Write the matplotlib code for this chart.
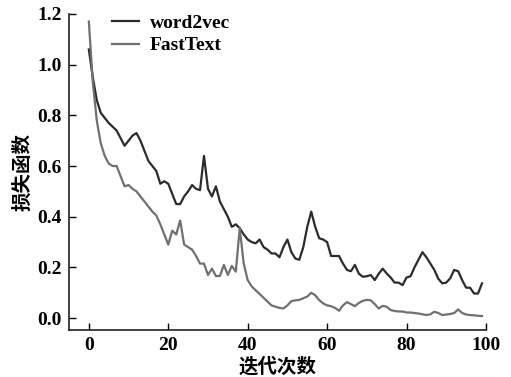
import matplotlib
matplotlib.use("Agg")
import matplotlib.pyplot as plt
import numpy as np

epochs = list(range(100))
word2vec = [1.06, 0.95, 0.86, 0.81, 0.79, 0.77, 0.755, 0.74, 0.71, 0.68,
            0.70, 0.72, 0.73, 0.70, 0.66, 0.62, 0.60, 0.58, 0.53, 0.54,
            0.53, 0.49, 0.45, 0.45, 0.48, 0.50, 0.525, 0.51, 0.505, 0.64,
            0.51, 0.48, 0.52, 0.46, 0.43, 0.40, 0.36, 0.37, 0.355, 0.33,
            0.31, 0.30, 0.295, 0.31, 0.28, 0.27, 0.255, 0.255, 0.24, 0.28,
            0.31, 0.26, 0.235, 0.23, 0.28, 0.36, 0.42, 0.36, 0.315, 0.31,
            0.30, 0.245, 0.245, 0.245, 0.215, 0.19, 0.185, 0.21, 0.175, 0.163,
            0.165, 0.17, 0.15, 0.175, 0.195, 0.176, 0.16, 0.14, 0.14, 0.13,
            0.16, 0.165, 0.20, 0.23, 0.26, 0.24, 0.215, 0.19, 0.155, 0.137,
            0.14, 0.157, 0.19, 0.185, 0.15, 0.12, 0.12, 0.097, 0.097, 0.137]
fasttext = [1.17, 0.93, 0.78, 0.69, 0.64, 0.61, 0.60, 0.60, 0.56, 0.52,
            0.525, 0.51, 0.50, 0.48, 0.46, 0.44, 0.42, 0.405, 0.37, 0.33,
            0.29, 0.345, 0.33, 0.385, 0.29, 0.28, 0.27, 0.245, 0.215, 0.215,
            0.17, 0.195, 0.166, 0.166, 0.21, 0.17, 0.206, 0.183, 0.355, 0.215,
            0.15, 0.125, 0.11, 0.095, 0.08, 0.065, 0.05, 0.045, 0.04, 0.038,
            0.05, 0.067, 0.07, 0.072, 0.078, 0.085, 0.10, 0.09, 0.071, 0.058,
            0.05, 0.047, 0.04, 0.029, 0.05, 0.063, 0.055, 0.047, 0.06, 0.068,
            0.072, 0.07, 0.055, 0.038, 0.048, 0.045, 0.032, 0.028, 0.026, 0.026,
            0.022, 0.022, 0.02, 0.018, 0.015, 0.012, 0.015, 0.025, 0.02, 0.012,
            0.014, 0.016, 0.02, 0.034, 0.02, 0.014, 0.012, 0.011, 0.009, 0.008]
x_ticks = [0, 20, 40, 60, 80, 100]
y_ticks = [0.0, 0.2, 0.4, 0.6, 0.8, 1.0, 1.2]
xlabel = "迭代次数"
ylabel = "损失函数"

fig = plt.figure(figsize=(5.11, 3.77), dpi=100)
ax = fig.add_axes([0.135, 0.1247, 0.816, 0.8382])

ax.plot(epochs, word2vec, color="#2b2b2b", lw=1.6, label="word2vec")
ax.plot(epochs, fasttext, color="#707070", lw=1.6, label="FastText")

ax.set_xlim(-5, 100)
ax.set_ylim(-0.047, 1.2)
ax.set_xticks(x_ticks)
ax.set_yticks(y_ticks)
ax.set_yticklabels([f"{v:.1f}" for v in y_ticks])
ax.tick_params(direction="in", length=5, width=1.0, labelsize=14, pad=5)
for lab in ax.get_xticklabels() + ax.get_yticklabels():
    lab.set_fontfamily("Liberation Serif")
    lab.set_fontweight("bold")
for s in ["top", "right"]:
    ax.spines[s].set_visible(False)
for s in ["left", "bottom"]:
    ax.spines[s].set_linewidth(1.2)
    ax.spines[s].set_color("#222222")

cjk = ["Noto Sans CJK SC", "DejaVu Sans"]
ax.set_xlabel(xlabel, fontsize=14, fontweight="bold", family=cjk, va="center")
ax.xaxis.set_label_coords(0.5, -0.117)
ax.set_ylabel(ylabel, fontsize=14, fontweight="bold", family=cjk, va="center")
ax.yaxis.set_label_coords(-0.11, 0.5)

leg = ax.legend(loc="upper left", bbox_to_anchor=(0.103, 0.999), frameon=False,
                prop={"family": "Liberation Serif", "weight": "bold", "size": 14},
                handlelength=1.4, handletextpad=0.55, labelspacing=0.25,
                borderpad=0, borderaxespad=0)

fig.savefig("out.png", dpi=100, facecolor="white")
